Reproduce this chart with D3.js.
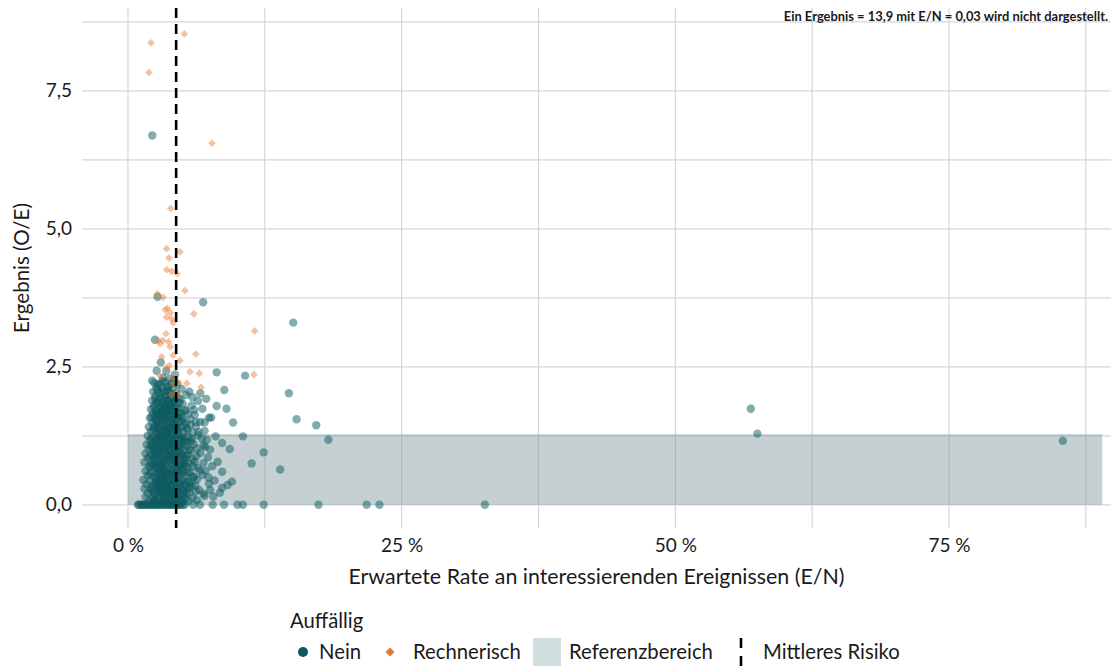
<!DOCTYPE html>
<html><head><meta charset="utf-8">
<script src="https://cdn.jsdelivr.net/npm/d3@7"></script>
<style>
body{margin:0;background:#fff}
svg{display:block}
text{font-family:Lato,"Open Sans",sans-serif;fill:#1a1a1a}
</style>
</head><body>
<svg id="chart" width="1114" height="669"></svg>
<script>
// ---------- data ----------
const xTicks = [0, 0.25, 0.5, 0.75];
const xTickLabels = ["0 %", "25 %", "50 %", "75 %"];
const xGrid = [0, 0.125, 0.25, 0.375, 0.5, 0.625, 0.75, 0.875];
const yTicks = [0, 2.5, 5, 7.5];
const yTickLabels = ["0,0", "2,5", "5,0", "7,5"];
const yGrid = [0, 1.25, 2.5, 3.75, 5, 6.25, 7.5, 8.75];
const meanRisk = 0.044;          // Mittleres Risiko (E/N)
const refBandY = [0, 1.28];      // Referenzbereich O/E
const refBandX = [0, 0.89];
const legendTitle = "Auffällig";
const legendLabels = ["Nein", "Rechnerisch", "Referenzbereich", "Mittleres Risiko"];
const note = "Ein Ergebnis = 13,9 mit E/N = 0,03 wird nicht dargestellt.";

// [E/N in %, O/E]  — Auffällig: Nein
const nein = [
[0.9,0],[1.0,0],[1.15,0],[1.3,0],[1.4,0],[1.55,0],[1.7,0],[1.8,0],[1.95,0],[2.1,0],[2.2,0],[2.35,0],[2.5,0],[2.6,0],[2.75,0],[2.9,0],[3.0,0],[3.15,0],[3.3,0],[3.4,0],[3.55,0],[3.7,0],[3.8,0],[3.95,0],[4.1,0],[4.25,0],[4.4,0],[4.55,0],[4.7,0],[4.85,0],[5.0,0],[5.2,0],[5.97,0],[6.58,0],[7.74,0],[8.77,0],[10.0,0],[10.5,0],[12.4,0],[17.4,0],[21.8,0],[22.97,0],[32.6,0],
[1.9,0.06],[2.4,0.09],[3.1,0.05],[3.7,0.08],[4.2,0.06],[4.8,0.1],[5.5,0.07],
[1.6,0.14],[2.2,0.12],[2.8,0.15],[3.3,0.13],[3.9,0.16],[4.5,0.12],[5.1,0.15],[5.9,0.13],[7.0,0.16],
[1.8,0.21],[2.5,0.19],[3.0,0.22],[3.6,0.2],[4.1,0.23],[4.7,0.19],[5.3,0.21],[6.2,0.24],[6.9,0.2],[8.4,0.22],
[1.5,0.29],[2.1,0.27],[2.7,0.3],[3.2,0.28],[3.8,0.26],[4.4,0.31],[5.0,0.28],[5.6,0.3],[6.5,0.27],
[1.7,0.37],[2.3,0.35],[2.9,0.38],[3.4,0.36],[4.0,0.34],[4.6,0.39],[5.2,0.36],[5.8,0.35],[7.4,0.38],[9.1,0.36],
[1.4,0.45],[2.0,0.43],[2.6,0.46],[3.1,0.44],[3.7,0.42],[4.3,0.47],[4.9,0.44],[5.5,0.43],[6.3,0.46],[7.9,0.44],
[1.8,0.53],[2.4,0.51],[3.0,0.54],[3.5,0.52],[4.1,0.5],[4.7,0.55],[5.3,0.52],[6.0,0.51],[6.8,0.54],
[1.6,0.61],[2.2,0.59],[2.8,0.62],[3.3,0.6],[3.9,0.58],[4.5,0.63],[5.1,0.6],[5.7,0.59],[7.1,0.62],[8.6,0.6],
[1.9,0.69],[2.5,0.67],[3.1,0.7],[3.6,0.68],[4.2,0.66],[4.8,0.71],[5.4,0.68],[6.4,0.67],[7.7,0.7],
[1.5,0.77],[2.1,0.75],[2.7,0.78],[3.2,0.76],[3.8,0.74],[4.4,0.79],[5.0,0.76],[5.6,0.75],[6.1,0.78],[6.9,0.76],
[1.8,0.85],[2.3,0.83],[2.9,0.86],[3.5,0.84],[4.0,0.82],[4.6,0.87],[5.2,0.84],[5.9,0.83],[7.3,0.86],
[1.6,0.93],[2.2,0.91],[2.6,0.94],[3.0,0.92],[3.7,0.9],[4.3,0.95],[4.9,0.92],[5.5,0.91],[6.6,0.94],
[1.9,1.01],[2.4,0.99],[2.8,1.02],[3.4,1.0],[3.9,0.98],[4.5,1.03],[5.1,1.0],[5.7,0.99],[6.3,1.02],[7.5,1.0],
[1.7,1.09],[2.1,1.07],[2.7,1.1],[3.2,1.08],[3.6,1.06],[4.2,1.11],[4.7,1.08],[5.3,1.07],[6.0,1.1],[6.9,1.08],
[2.0,1.17],[2.5,1.15],[3.0,1.18],[3.5,1.16],[4.1,1.14],[4.6,1.19],[5.2,1.16],[5.8,1.15],[7.2,1.18],
[1.8,1.25],[2.3,1.23],[2.9,1.26],[3.3,1.24],[3.8,1.22],[4.4,1.27],[5.0,1.24],[5.5,1.23],[6.4,1.26],[8.0,1.24],
[2.1,1.33],[2.6,1.31],[3.1,1.34],[3.6,1.32],[4.0,1.3],[4.6,1.35],[5.1,1.32],[5.9,1.31],[7.0,1.34],
[1.9,1.41],[2.4,1.39],[2.8,1.42],[3.4,1.4],[3.9,1.38],[4.3,1.43],[4.9,1.4],[5.4,1.39],[6.2,1.42],
[2.2,1.49],[2.7,1.47],[3.2,1.5],[3.7,1.48],[4.2,1.46],[4.7,1.51],[5.3,1.48],[6.6,1.5],
[2.0,1.57],[2.5,1.55],[3.0,1.58],[3.5,1.56],[4.0,1.54],[4.5,1.59],[5.0,1.56],[5.7,1.55],[7.4,1.58],
[2.3,1.65],[2.8,1.63],[3.3,1.66],[3.8,1.64],[4.3,1.62],[4.8,1.67],[5.5,1.64],[6.1,1.63],
[2.1,1.73],[2.6,1.71],[3.1,1.74],[3.6,1.72],[4.1,1.7],[4.6,1.75],[5.2,1.72],[6.8,1.74],
[2.4,1.81],[2.9,1.79],[3.4,1.82],[3.9,1.8],[4.4,1.78],[5.0,1.83],[5.8,1.8],
[2.2,1.89],[2.7,1.87],[3.2,1.9],[3.7,1.88],[4.2,1.86],[4.8,1.91],[6.4,1.88],
[2.5,1.97],[3.0,1.95],[3.5,1.98],[4.0,1.96],[4.6,1.94],[5.3,1.99],
[2.3,2.05],[2.8,2.03],[3.3,2.06],[3.8,2.04],[4.4,2.02],[5.6,2.05],
[2.6,2.13],[3.1,2.11],[3.6,2.14],[4.1,2.12],[4.9,2.1],
[2.4,2.21],[2.9,2.19],[3.4,2.22],[4.0,2.2],[4.5,2.18],
[3.2,2.3],[3.8,2.28],
[2.6,0.08],[3.0,0.1],[3.4,0.07],[3.9,0.11],[4.4,0.09],[4.9,0.06],
[2.3,0.24],[2.8,0.23],[3.3,0.26],[3.5,0.32],[4.0,0.25],[4.6,0.23],[5.1,0.26],
[2.5,0.4],[3.2,0.41],[3.6,0.39],[4.2,0.42],[4.8,0.4],
[2.0,0.56],[2.7,0.57],[3.2,0.55],[3.7,0.58],[4.3,0.56],[4.9,0.57],
[2.3,0.72],[2.9,0.73],[3.4,0.71],[4.0,0.74],[4.6,0.72],[5.2,0.73],
[2.0,0.88],[2.5,0.89],[3.2,0.87],[3.8,0.9],[4.2,0.88],[4.7,0.89],
[2.2,1.04],[3.0,1.05],[3.6,1.03],[4.0,1.06],[4.8,1.04],
[2.6,1.2],[3.2,1.21],[3.7,1.19],[4.3,1.22],[4.8,1.2],
[2.3,1.36],[2.9,1.37],[3.4,1.35],[3.8,1.38],[4.4,1.36],
[2.6,1.52],[3.3,1.53],[3.9,1.51],[4.4,1.54],
[2.6,1.68],[3.1,1.69],[3.5,1.67],[4.0,1.7],
[2.6,1.84],[3.2,1.85],[3.7,1.83],[4.1,1.86],
[2.35,0.17],[2.95,0.31],[3.45,0.19],[3.85,0.36],[4.35,0.15],[4.75,0.33],[5.25,0.11],[2.55,0.48],[3.05,0.63],[3.55,0.46],
[4.05,0.61],[4.55,0.5],[5.05,0.66],[2.45,0.79],[2.85,0.95],[3.35,0.81],[3.75,0.97],[4.25,0.77],[4.65,0.96],[5.15,0.81],
[2.25,1.12],[2.75,1.27],[3.25,1.13],[3.65,1.29],[4.15,1.12],[4.55,1.28],[5.05,1.13],[2.45,1.44],[2.95,1.59],[3.45,1.45],
[3.85,1.61],[4.35,1.44],[4.85,1.6],[2.35,1.76],[2.85,1.92],[3.35,1.77],[3.85,1.93],[4.35,1.74],[2.65,2.08],[3.15,2.24],
[3.65,2.07],[4.2,2.26],[2.15,1.6],[2.05,0.7],[2.1,0.3],[2.15,1.2],
[3.15,0.18],[3.6,0.29],[4.1,0.37],[3.3,0.47],[3.8,0.53],[4.4,0.64],[3.05,0.76],[3.55,0.88],[4.1,0.93],[3.25,1.0],
[3.8,1.1],[4.3,1.01],[3.1,1.44],[3.6,1.6],[4.1,1.47],[3.4,1.72],[3.9,1.73],[3.0,1.3],[3.5,1.24],[4.0,1.36],
[2.75,0.36],[2.65,0.65],[2.4,0.97],[2.85,1.15],[2.55,1.62],[2.95,1.78],[3.7,2.14],[4.7,1.84],[4.95,1.52],[5.4,1.14],
[5.5,0.58],[5.6,0.22],[5.35,0.88],[5.45,1.35],
[2.42,0.05],[2.88,0.27],[3.38,0.11],[3.92,0.21],[4.48,0.28],[4.98,0.19],[2.62,0.34],[3.12,0.52],[3.62,0.58],[4.18,0.47],
[4.68,0.62],[2.78,0.69],[3.28,0.63],[3.78,0.82],[4.28,0.86],[4.82,0.74],[2.58,0.86],[3.08,0.98],[3.58,1.09],[4.08,1.17],
[4.62,1.07],[2.48,1.06],[2.98,1.22],[3.48,1.31],[3.98,1.26],[4.52,1.4],[2.68,1.38],[3.18,1.57],[3.68,1.41],[4.18,1.56],
[4.62,1.66],[2.78,1.52],[3.28,1.65],[3.78,1.78],[4.28,1.91],[2.88,1.66],[3.38,1.96],[3.88,2.0],[2.72,2.18],[3.52,1.88],
[4.02,1.83],[2.5,1.92],[3.05,2.04],[4.2,0.2],[3.7,0.15],[2.9,0.45],[5.0,0.9],[5.1,1.45],[5.2,0.42],[4.9,1.2],
[5.3,1.7],[5.6,1.0],[5.65,0.4],[5.8,1.2],[6.0,0.5],[5.4,0.3],[5.7,1.45],
[6.15,0.35],[6.55,0.62],[6.25,0.88],[6.75,1.2],[6.45,1.32],[7.05,1.05],[7.35,0.5],[6.05,1.72],[7.15,1.92],[6.6,2.02],
[5.9,1.95],[7.8,0.15],[7.6,1.58],[6.2,1.5],[5.95,0.7],
[2.7,3.77],[6.87,3.67],[2.47,2.99],[3.0,2.58],[2.62,2.43],[8.1,2.4],[10.7,2.34],[8.8,2.08],[2.2,2.25],[3.5,2.42],[4.3,2.36],
[8.1,1.79],[9.0,1.74],[7.0,1.49],[9.6,1.49],[10.5,1.24],[8.6,1.12],[9.3,1.01],[8.2,0.78],[9.5,0.42],[8.6,0.31],[7.5,0.27],[6.3,0.09],
[15.1,3.3],[14.7,2.02],[15.4,1.55],[17.2,1.44],[18.3,1.18],[12.4,0.95],[11.3,0.75],[13.9,0.64],
[56.9,1.74],[57.5,1.29],[85.4,1.16],[2.22,6.69]
];

// [E/N in %, O/E]  — Auffällig: Rechnerisch
const rechnerisch = [
[5.15,8.53],[2.1,8.37],[1.92,7.83],[7.68,6.55],[3.9,5.37],[3.53,4.64],[4.75,4.58],[3.75,4.47],
[3.53,4.26],[4.0,4.23],[4.5,4.19],[5.2,3.88],[2.7,3.82],[3.2,3.76],[3.6,3.56],[3.4,3.53],
[3.86,3.48],[6.02,3.46],[3.53,3.40],[3.99,3.37],[4.14,3.30],[11.57,3.15],[3.47,3.10],[3.17,2.98],
[2.77,2.97],[2.93,2.92],[3.7,2.95],[3.86,2.86],[6.2,2.73],[3.07,2.68],[4.14,2.71],[4.75,2.61],
[3.77,2.52],[3.53,2.48],[5.66,2.41],[6.51,2.38],[11.5,2.36],[2.92,2.34],[3.99,2.31],[4.6,2.22],
[5.37,2.2],[6.67,2.13],[4.14,2.18],[3.99,1.99],[4.6,1.99]
];

// ---------- drawing ----------
const svg = d3.select("#chart");
const panel = {left: 82, right: 1111, top: 8, bottom: 528};

const x = d3.scaleLinear().domain([-0.042, 0.898]).range([panel.left, panel.right]);
const y = d3.scaleLinear().domain([-0.42, 9.0]).range([panel.bottom, panel.top]);

const teal = "#0a5a5f", orange = "#e8772e";

// gridlines
const g = svg.append("g");
g.selectAll(".vg").data(xGrid).join("line")
  .attr("x1", d => x(d)).attr("x2", d => x(d))
  .attr("y1", panel.top).attr("y2", panel.bottom)
  .attr("stroke", "#d6d6d6").attr("stroke-width", 1.2);
g.selectAll(".hg").data(yGrid).join("line")
  .attr("y1", d => y(d)).attr("y2", d => y(d))
  .attr("x1", panel.left).attr("x2", panel.right)
  .attr("stroke", "#d6d6d6").attr("stroke-width", 1.2);

// reference band
svg.append("rect")
  .attr("x", x(refBandX[0])).attr("width", x(refBandX[1]) - x(refBandX[0]))
  .attr("y", y(refBandY[1])).attr("height", y(refBandY[0]) - y(refBandY[1]))
  .attr("fill", "#7f979c").attr("fill-opacity", 0.45);

// points
svg.append("g").selectAll("circle").data(nein).join("circle")
  .attr("cx", d => x(d[0] / 100)).attr("cy", d => y(d[1]))
  .attr("r", 4.2).attr("fill", teal).attr("fill-opacity", 0.5);

const diamond = d3.symbol(d3.symbolSquare, 30);
svg.append("g").selectAll("path").data(rechnerisch).join("path")
  .attr("d", diamond)
  .attr("transform", d => `translate(${x(d[0] / 100)},${y(d[1])}) rotate(45)`)
  .attr("fill", orange).attr("fill-opacity", 0.45);

// mean risk line
svg.append("line")
  .attr("x1", x(meanRisk)).attr("x2", x(meanRisk))
  .attr("y1", panel.top).attr("y2", panel.bottom)
  .attr("stroke", "#000").attr("stroke-width", 2.6)
  .attr("stroke-dasharray", "10,6");

// axes
const xAxis = svg.append("g").attr("transform", `translate(0,${panel.bottom})`)
  .call(d3.axisBottom(x).tickValues(xTicks).tickFormat((d, i) => xTickLabels[i]).tickSize(0).tickPadding(11));
const yAxis = svg.append("g").attr("transform", `translate(${panel.left},0)`)
  .call(d3.axisLeft(y).tickValues(yTicks).tickFormat((d, i) => yTickLabels[i]).tickSize(0).tickPadding(10));
[xAxis, yAxis].forEach(a => {
  a.select(".domain").remove();
  a.selectAll("text").style("font-family", "Lato, sans-serif").style("font-size", "19px").attr("fill", "#333");
});

// axis titles
svg.append("text").attr("x", (panel.left + panel.right) / 2).attr("y", 584)
  .attr("text-anchor", "middle").style("font-size", "21.4px").attr("fill", "#222")
  .text("Erwartete Rate an interessierenden Ereignissen (E/N)");
svg.append("text").attr("transform", `translate(29,${(panel.top + panel.bottom) / 2}) rotate(-90)`)
  .attr("text-anchor", "middle").style("font-size", "20.5px").attr("fill", "#222")
  .text("Ergebnis (O/E)");

// note
svg.append("text").attr("x", 1108).attr("y", 21).attr("text-anchor", "end")
  .style("font-size", "12.9px").style("font-weight", "bold").attr("fill", "#111")
  .text(note);

// legend
const fs = "20.3px";
const lg = svg.append("g");
lg.append("text").attr("x", 290).attr("y", 628).style("font-size", fs).attr("fill", "#222").text(legendTitle);
const ly = 652;
lg.append("circle").attr("cx", 303).attr("cy", ly).attr("r", 5).attr("fill", teal);
lg.append("text").attr("x", 319).attr("y", ly + 7).style("font-size", fs).attr("fill", "#222").text(legendLabels[0]);
lg.append("path").attr("d", d3.symbol(d3.symbolSquare, 40)).attr("transform", `translate(390,${ly}) rotate(45)`).attr("fill", "#e0782f");
lg.append("text").attr("x", 413).attr("y", ly + 7).style("font-size", fs).attr("fill", "#222").text(legendLabels[1]);
lg.append("rect").attr("x", 533).attr("y", ly - 14).attr("width", 28).attr("height", 28).attr("fill", "#d0dfe0");
lg.append("text").attr("x", 569).attr("y", ly + 7).style("font-size", fs).attr("fill", "#222").text(legendLabels[2]);
lg.append("line").attr("x1", 741).attr("x2", 741).attr("y1", ly - 14).attr("y2", ly + 14)
  .attr("stroke", "#000").attr("stroke-width", 2.6).attr("stroke-dasharray", "10,8");
lg.append("text").attr("x", 763).attr("y", ly + 7).style("font-size", fs).attr("fill", "#222").text(legendLabels[3]);
</script>
</body></html>
